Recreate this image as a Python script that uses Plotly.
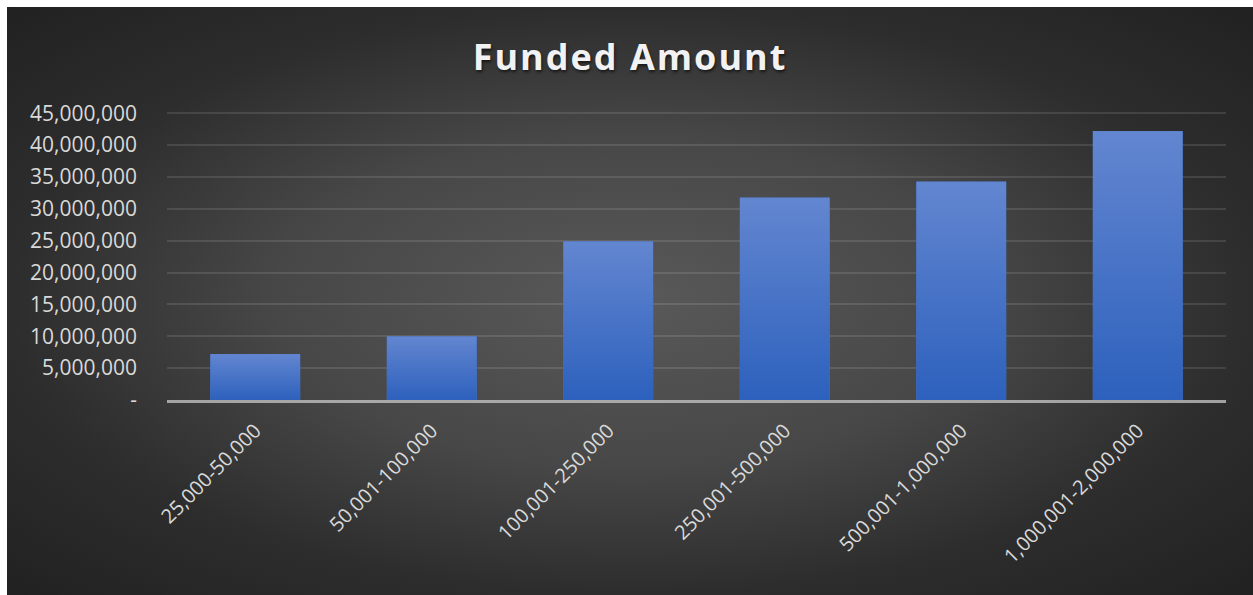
import base64
import plotly.graph_objects as go

categories = ["25,000-50,000", "50,001-100,000", "100,001-250,000",
              "250,001-500,000", "500,001-1,000,000", "1,000,001-2,000,000"]
funded = [7200000, 10000000, 24900000, 31800000, 34300000, 42200000]
y_tickvals = [0, 5000000, 10000000, 15000000, 20000000, 25000000,
              30000000, 35000000, 40000000, 45000000]
y_ticktext = ["-", "5,000,000", "10,000,000", "15,000,000", "20,000,000",
              "25,000,000", "30,000,000", "35,000,000", "40,000,000", "45,000,000"]
title_text = "Funded Amount"

W, H = 1253, 595
Y_MAX = 45200000
ML, MR, MT, MB = 167, 27, 112, 195
PW, PH = W - ML - MR, H - MT - MB
BG_L, BG_T = 7, 7
BAR_FRAC = 0.51


def svg_uri(svg):
    return "data:image/svg+xml;base64," + base64.b64encode(svg.encode()).decode()


bg_svg = (
    '<svg xmlns="http://www.w3.org/2000/svg" width="1246" height="588" '
    'viewBox="0 0 1246 588" preserveAspectRatio="none">'
    '<defs><radialGradient id="g" cx="0.5" cy="0.5" r="0.71" fx="0.5" fy="0.5">'
    '<stop offset="0" stop-color="#595959"/>'
    '<stop offset="0.4" stop-color="#474747"/>'
    '<stop offset="0.7" stop-color="#2d2d2d"/>'
    '<stop offset="1" stop-color="#212121"/>'
    '</radialGradient></defs>'
    '<rect width="1246" height="588" fill="url(#g)"/></svg>'
)

bar_svg = (
    '<svg xmlns="http://www.w3.org/2000/svg" width="10" height="100" '
    'viewBox="0 0 10 100" preserveAspectRatio="none">'
    '<defs><linearGradient id="b" x1="0" y1="0" x2="0" y2="1">'
    '<stop offset="0" stop-color="#6386d0"/>'
    '<stop offset="1" stop-color="#2d61bd"/>'
    '</linearGradient></defs>'
    '<rect width="10" height="100" fill="url(#b)"/></svg>'
)

fig = go.Figure()
fig.add_trace(go.Bar(
    x=categories, y=funded,
    marker=dict(color="#4472c4", line=dict(width=0)),
    hoverinfo="x+y",
))

images = [dict(
    source=svg_uri(bg_svg), xref="paper", yref="paper",
    x=(BG_L - ML) / PW, y=(MT + PH - BG_T) / PH,
    sizex=(W - BG_L) / PW, sizey=(H - BG_T) / PH,
    xanchor="left", yanchor="top", sizing="stretch", layer="below",
)]
for i, v in enumerate(funded):
    images.append(dict(
        source=svg_uri(bar_svg), xref="x", yref="y",
        x=i, y=0, sizex=BAR_FRAC, sizey=v,
        xanchor="center", yanchor="bottom", sizing="stretch", layer="above",
    ))

fig.update_layout(
    width=W, height=H,
    margin=dict(l=ML, r=MR, t=MT, b=MB, pad=0),
    paper_bgcolor="white",
    plot_bgcolor="rgba(0,0,0,0)",
    images=images,
    bargap=1 - BAR_FRAC,
    showlegend=False,
    title=dict(
        text='<span style="letter-spacing:2px">' + title_text + '</span>',
        x=630 / W, xref="container", xanchor="center",
        y=1 - 57 / H, yref="container", yanchor="middle",
        font=dict(family="Open Sans", size=36, color="#f2f2f2",
                  weight="bold", shadow="1px 2px 3px rgba(0,0,0,0.6)"),
    ),
    xaxis=dict(
        type="category",
        tickangle=-45,
        tickfont=dict(family="Open Sans", size=20, color="#d9d9d9"),
        showgrid=False,
        showline=True, linecolor="rgba(200,200,200,0.75)", linewidth=3,
        ticks="", ticklabelstandoff=8,
        range=[-0.5, len(categories) - 0.5],
        layer="above traces",
    ),
    yaxis=dict(
        range=[0, Y_MAX],
        tickvals=y_tickvals, ticktext=y_ticktext,
        tickfont=dict(family="Open Sans", size=21, color="#d9d9d9"),
        showgrid=True, gridcolor="rgba(255,255,255,0.11)", gridwidth=2,
        zeroline=False, showline=False, ticks="",
        ticklabelstandoff=29,
    ),
)

fig.write_html(
    "out.html",
    config={"displayModeBar": False},
    post_script="document.body.style.margin='0';document.body.style.overflow='hidden';",
)
